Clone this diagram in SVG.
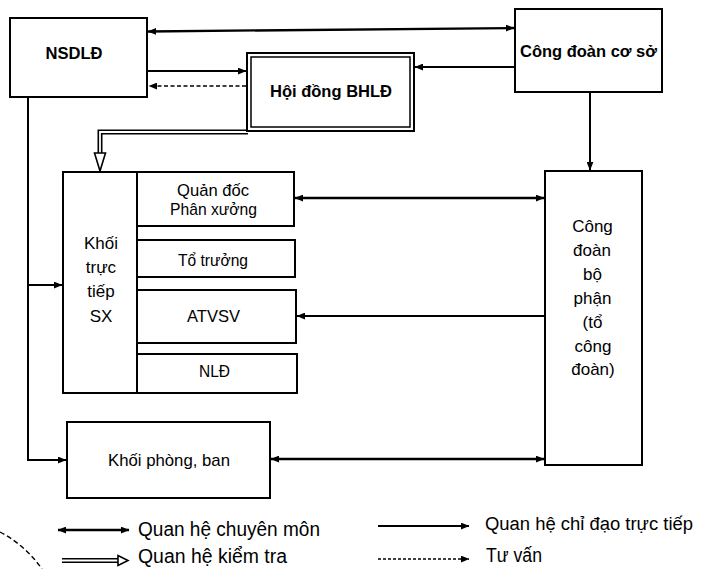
<svg xmlns="http://www.w3.org/2000/svg" width="702" height="569" viewBox="0 0 702 569">
<style>
.box{fill:#fff;stroke:#000;stroke-width:2}
.t{font-family:"Liberation Sans",Arial,sans-serif;font-size:17px;fill:#000;text-anchor:middle}
.b{font-weight:bold;font-size:16px}
.lg{font-family:"Liberation Sans",Arial,sans-serif;font-size:19.5px;fill:#000}
.ln{fill:none;stroke:#000;stroke-width:2}
.dash{stroke-dasharray:4 2.5;stroke-width:1.6}
.dbl{fill:none;stroke:#000;stroke-width:5;stroke-linejoin:miter}
.dblw{fill:none;stroke:#fff;stroke-width:1.8;stroke-linejoin:miter}
.hollow{fill:#fff;stroke:#000;stroke-width:1.6}
</style>
<defs>
<marker id="ah" viewBox="0 0 10 8" refX="9.5" refY="4" markerWidth="9" markerHeight="7" markerUnits="userSpaceOnUse" orient="auto-start-reverse"><path d="M0,0 L10,4 L0,8 z" fill="#000"/></marker>
</defs>
<rect width="702" height="569" fill="#fff"/>

<g id="connectors">
<path class="ln" d="M148,31.5 L514,28" marker-start="url(#ah)" marker-end="url(#ah)" style="stroke-width:2.3"/>
<path class="ln" d="M148,71 H246" marker-end="url(#ah)"/>
<path class="ln dash" d="M246,86 H149" marker-end="url(#ah)"/>
<path class="ln" d="M514,67 H415" marker-end="url(#ah)"/>
<path class="ln" d="M590,93 V170" marker-end="url(#ah)"/>
<path class="dbl" d="M248,132 H100 V154"/>
<path class="dblw" d="M248,132 H100 V156"/>
<polygon class="hollow" points="94.5,153 105.5,153 100,171"/>
<path class="ln" d="M28,97 V460 H66" marker-end="url(#ah)"/>
<path class="ln" d="M28,285 H62" marker-end="url(#ah)"/>
<path class="ln" d="M295,198 H544" marker-start="url(#ah)" marker-end="url(#ah)" style="stroke-width:2.3"/>
<path class="ln" d="M544,316 H297" marker-end="url(#ah)"/>
<path class="ln" d="M271,459 H544" marker-start="url(#ah)" marker-end="url(#ah)" style="stroke-width:2.3"/>
</g>

<g id="nsdld">
<rect class="box" x="10" y="18" width="137" height="79"/>
<text class="t b" x="74" y="59" textLength="57" lengthAdjust="spacingAndGlyphs">NSDLĐ</text>
</g>
<g id="cong-doan-co-so">
<rect class="box" x="515" y="9" width="147" height="83"/>
<text class="t b" x="588.5" y="57" textLength="137" lengthAdjust="spacingAndGlyphs">Công đoàn cơ sở</text>
</g>
<g id="hoi-dong-bhld">
<rect class="box" x="247" y="53" width="167" height="78"/>
<rect class="box" x="251" y="57" width="159" height="70" style="stroke-width:1.5"/>
<text class="t b" x="331" y="97" textLength="122" lengthAdjust="spacingAndGlyphs">Hội đồng BHLĐ</text>
</g>
<g id="khoi-truc-tiep-sx">
<rect class="box" x="63" y="172" width="74" height="221"/>
<text class="t" x="101" y="249">Khối</text>
<text class="t" x="101" y="273">trực</text>
<text class="t" x="101" y="297">tiếp</text>
<text class="t" x="101" y="322">SX</text>
</g>
<g id="quan-doc">
<rect class="box" x="137" y="172" width="157" height="54"/>
<text class="t" x="213" y="196" textLength="72" lengthAdjust="spacingAndGlyphs">Quản đốc</text>
<text class="t" x="213.5" y="215" textLength="87" lengthAdjust="spacingAndGlyphs">Phân xưởng</text>
</g>
<g id="to-truong">
<rect class="box" x="137" y="240" width="158" height="37"/>
<text class="t" x="213" y="266" textLength="70" lengthAdjust="spacingAndGlyphs">Tổ trưởng</text>
</g>
<g id="atvsv">
<rect class="box" x="137" y="290" width="159" height="53"/>
<text class="t" x="213.5" y="322" textLength="53" lengthAdjust="spacingAndGlyphs">ATVSV</text>
</g>
<g id="nld">
<rect class="box" x="137" y="354" width="160" height="39"/>
<text class="t" x="214.5" y="377" textLength="31" lengthAdjust="spacingAndGlyphs">NLĐ</text>
</g>
<g id="cong-doan-bo-phan">
<rect class="box" x="545" y="171" width="97" height="294"/>
<text class="t" x="592.5" y="232">Công</text>
<text class="t" x="592" y="256">đoàn</text>
<text class="t" x="592.5" y="280">bộ</text>
<text class="t" x="592.5" y="304">phận</text>
<text class="t" x="592.5" y="328">(tổ</text>
<text class="t" x="593" y="352">công</text>
<text class="t" x="593" y="375">đoàn)</text>
</g>
<g id="khoi-phong-ban">
<rect class="box" x="67" y="422" width="203" height="76"/>
<text class="t" x="169" y="466" textLength="122" lengthAdjust="spacingAndGlyphs">Khối phòng, ban</text>
</g>

<g id="legend">
<path class="ln" d="M58,530 H129" marker-start="url(#ah)" marker-end="url(#ah)" style="stroke-width:2.3"/>
<text class="lg" x="138" y="536" textLength="182" lengthAdjust="spacingAndGlyphs">Quan hệ chuyên môn</text>
<path class="ln" d="M378,526 H469" marker-end="url(#ah)"/>
<text class="lg" x="485" y="530" textLength="208" lengthAdjust="spacingAndGlyphs" style="font-size:18px">Quan hệ chỉ đạo trực tiếp</text>
<path class="dbl" d="M62,560.5 H119"/>
<path class="dblw" d="M62,560.5 H121"/>
<polygon class="hollow" points="118,555.5 118,565.5 128,560.5"/>
<text class="lg" x="138" y="563" textLength="149" lengthAdjust="spacingAndGlyphs">Quan hệ kiểm tra</text>
<path class="ln" d="M378,559 H469" marker-end="url(#ah)" style="stroke-dasharray:3 2;stroke-width:1.5"/>
<text class="lg" x="486" y="562" textLength="56" lengthAdjust="spacingAndGlyphs">Tư vấn</text>
</g>
<path d="M0,532 Q25,545 42,569" fill="none" stroke="#000" stroke-width="1.4" stroke-dasharray="5 3"/>
</svg>
